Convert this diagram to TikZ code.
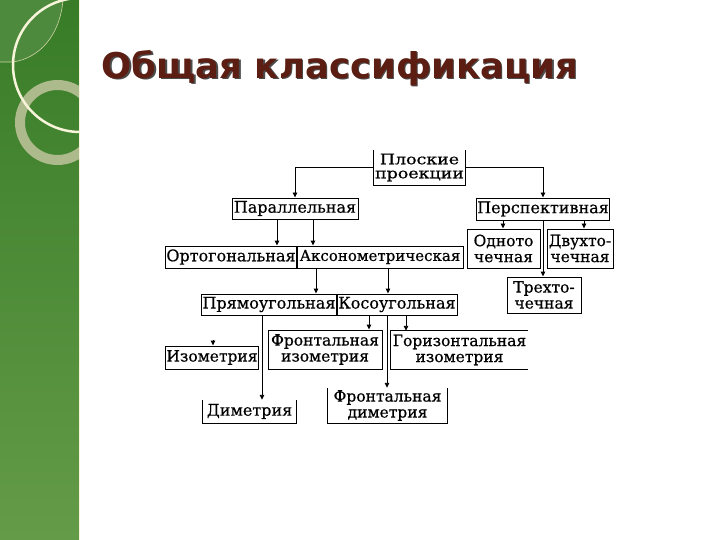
\documentclass[tikz,border=0pt]{standalone}
\usepackage{fontspec}
\setmainfont{DejaVu Serif}
\newfontfamily\diagfont{DejaVu Serif}[FakeBold=0.5]
\newfontfamily\titlefont{DejaVu Sans}
\usetikzlibrary{arrows.meta}
\definecolor{bartop}{RGB}{56,124,40}
\definecolor{barbot}{RGB}{100,155,72}
\definecolor{barlight}{RGB}{78,138,62}
\definecolor{paleline}{RGB}{205,212,165}
\definecolor{cream}{RGB}{248,244,218}
\definecolor{sage}{RGB}{172,186,140}
\definecolor{titlebrown}{RGB}{92,30,18}
\newcommand{\widetxt}[1]{\scalebox{1.2}[1]{#1}}
\tikzset{
  bx/.style={draw=black, line width=0.9pt, inner sep=1pt, align=center, font=\diagfont\fontsize{16}{17}\selectfont},
  nb/.style={inner sep=1pt, align=center, font=\diagfont\fontsize{16}{17}\selectfont},
  two/.style={font=\diagfont\fontsize{15.5}{16}\selectfont},
  edge/.style={line width=0.9pt},
  arr/.style={line width=0.9pt, -{Triangle[length=5pt,width=4.5pt]}},
}
\begin{document}
\begin{tikzpicture}[x=1pt,y=-1pt]
\useasboundingbox (0,0) rectangle (720,540);
\fill[white] (0,0) rectangle (720,540);
% side bar
\shade[top color=bartop, bottom color=barbot] (0,0) rectangle (79,540);
\begin{scope}
  \clip (0,0) rectangle (79,540);
  \fill[barlight] (0,0) -- (63,0) .. controls (60,35) and (40,58) .. (13,62) -- (0,62) -- cycle;
  \draw[paleline, line width=0.6pt] (63,0) .. controls (60,35) and (40,58) .. (13,62) -- (0,62);
  \draw[sage, line width=10pt] (57.5,122.5) circle[radius=37.5];
  \draw[cream, line width=2.5pt] (80,65) circle[radius=67];
\end{scope}
\draw[cream, line width=1pt] (79.5,0) -- (79.5,540);
% title
\node[anchor=base west, inner sep=0pt, text=black!70, font=\titlefont\bfseries\fontsize{35.5}{40}\selectfont] (titleshadow) at (103,80) {Общая классификация};
\node[anchor=base west, inner sep=0pt, text=titlebrown, font=\titlefont\bfseries\fontsize{35.5}{40}\selectfont] (title) at (101.5,78.5) {Общая классификация};
% nodes
\node[nb, font=\diagfont\fontsize{14.5}{14}\selectfont, minimum width=91pt, minimum height=35pt] (plosk) at (419.5,167.5) {\widetxt{Плоские}\\\widetxt{проекции}};
\node[bx, minimum width=126pt, minimum height=21pt] (par) at (295,208.5) {Параллельная};
\node[bx, minimum width=128pt, minimum height=22pt] (persp) at (543,209) {Перспективная};
\node[bx, minimum width=130pt, minimum height=22pt] (orto) at (231,257) {Ортогональная};
\node[bx, font=\diagfont\fontsize{15}{16}\selectfont, minimum width=166pt, minimum height=22pt] (akso) at (380,257) {Аксонометрическая};
\node[bx, two, minimum width=73pt, minimum height=39pt] (odno) at (503.5,248.5) {Одното\\чечная};
\node[bx, two, minimum width=66pt, minimum height=39pt] (dvuh) at (580,248.5) {Двухто-\\чечная};
\node[bx, two, minimum width=74pt, minimum height=36pt] (treh) at (544,295) {Трехто-\\чечная};
\node[bx, minimum width=132pt, minimum height=21pt] (pryam) at (269,304.5) {Прямоугольная};
\node[bx, minimum width=120pt, minimum height=21pt] (koso) at (397,304.5) {Косоугольная};
\node[bx, font=\diagfont\fontsize{15.5}{16}\selectfont, minimum width=90pt, minimum height=23pt] (iso) at (212,357.5) {Изометрия};
\node[bx, two, minimum width=114pt, minimum height=39pt] (fiso) at (325,349.5) {Фронтальная\\изометрия};
\node[nb, two, minimum width=137pt, minimum height=38pt] (giso) at (459.5,350) {Горизонтальная\\изометрия};
\node[nb, minimum width=93pt, minimum height=23pt] (dim) at (249.5,411.5) {Диметрия};
\node[nb, two, minimum width=119pt, minimum height=35pt] (fdim) at (387.5,405.5) {Фронтальная\\диметрия};
% partial borders
\draw[edge] (plosk.north west) -- (plosk.south west) -- (plosk.south east) -- (plosk.north east);
\draw[edge] (giso.north east) -- (giso.north west) -- (giso.south west) -- (giso.south east);
\draw[edge] (dim.north west) -- (dim.south west) -- (dim.south east) -- (dim.north east);
\draw[edge] (fdim.north west) -- (fdim.south west) -- (fdim.south east) -- (fdim.north east);
% connectors
\draw[arr] (plosk.west) -| (par.north);
\draw[arr] (plosk.east) -| (persp.north);
\draw[arr] ([xshift=-18pt]par.south) -- ([xshift=-18pt]par.south |- orto.north);
\draw[arr] ([xshift=18pt]par.south) -- ([xshift=18pt]par.south |- akso.north);
\draw[arr] ([xshift=-64pt]akso.south) -- ([xshift=-64pt]akso.south |- pryam.north);
\draw[arr] ([xshift=8pt]akso.south) -- ([xshift=8pt]akso.south |- koso.north);
\draw[arr] ([xshift=-40pt]persp.south) -- ([xshift=-40pt]persp.south |- odno.north);
\draw[arr] ([xshift=41pt]persp.south) -- ([xshift=41pt]persp.south |- dvuh.north);
\draw[arr] (persp.south) -- (persp.south |- treh.north);
\draw[arr] ([xshift=-28pt]koso.south) -- ([xshift=-28pt]koso.south |- fiso.north);
\draw[arr] ([xshift=9pt]koso.south) -- ([xshift=9pt]koso.south |- giso.north);
\draw[arr] ([xshift=-10pt]koso.south) -- ([xshift=-10pt]koso.south |- fdim.north);
\draw[arr] ([xshift=-7pt]pryam.south) -- ([xshift=-7pt]pryam.south |- dim.north);
\coordinate (isotick) at (213,340);
\draw[arr] (isotick) -- (isotick |- iso.north);
\end{tikzpicture}
\end{document}
